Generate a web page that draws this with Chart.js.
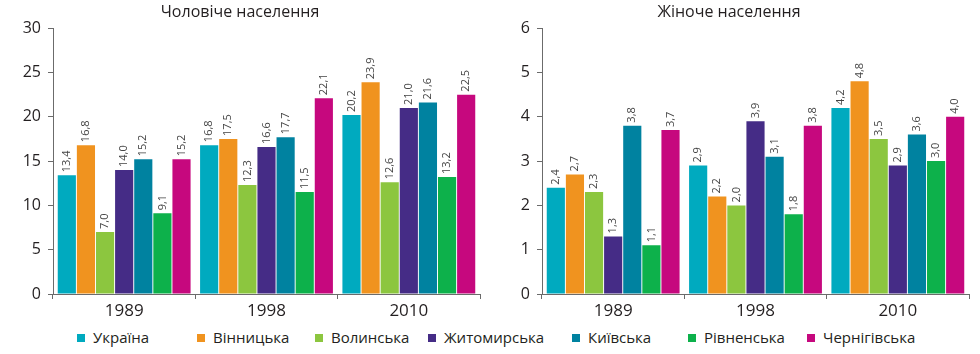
<!DOCTYPE html>
<html>
<head>
<meta charset="utf-8">
<script src="https://cdn.jsdelivr.net/npm/chart.js@4/dist/chart.umd.min.js"></script>
<style>
  body { margin: 0; background: #fff; }
  #wrap { position: relative; width: 980px; height: 354px; overflow: hidden; }
  canvas { position: absolute; top: 0; }
  #legend { position: absolute; left: 0; top: 326px; width: 980px; height: 26px; font-family: "Open Sans", sans-serif; font-size: 15px; color: #231f20; }
  .item { position: absolute; top: 0; white-space: nowrap; line-height: 22px; }
  .box { display: inline-block; width: 8px; height: 8px; margin-right: 8px; vertical-align: 1px; }
</style>
</head>
<body>
<div id="wrap">
  <canvas id="male" width="490" height="326" style="left:0"></canvas>
  <canvas id="female" width="490" height="326" style="left:489px"></canvas>
  <div id="legend"></div>
</div>
<script>
var years = ["1989", "1998", "2010"];
var regions = ["Україна", "Вінницька", "Волинська", "Житомирська", "Київська", "Рівненська", "Чернігівська"];
var colors = ["#00aabf", "#f0931f", "#8cc63f", "#452c86", "#0082a0", "#0db14b", "#c6087e"];

// чоловіче населення
var maleUkraine = [13.4, 16.8, 20.2];
var maleVinnytsia = [16.8, 17.5, 23.9];
var maleVolyn = [7.0, 12.3, 12.6];
var maleZhytomyr = [14.0, 16.6, 21.0];
var maleKyiv = [15.2, 17.7, 21.6];
var maleRivne = [9.1, 11.5, 13.2];
var maleChernihiv = [15.2, 22.1, 22.5];

// жіноче населення
var femaleUkraine = [2.4, 2.9, 4.2];
var femaleVinnytsia = [2.7, 2.2, 4.8];
var femaleVolyn = [2.3, 2.0, 3.5];
var femaleZhytomyr = [1.3, 3.9, 2.9];
var femaleKyiv = [3.8, 3.1, 3.6];
var femaleRivne = [1.1, 1.8, 3.0];
var femaleChernihiv = [3.7, 3.8, 4.0];

var maleTicks = [0, 5, 10, 15, 20, 25, 30];
var femaleTicks = [0, 1, 2, 3, 4, 5, 6];

var maleSeries = [maleUkraine, maleVinnytsia, maleVolyn, maleZhytomyr, maleKyiv, maleRivne, maleChernihiv];
var femaleSeries = [femaleUkraine, femaleVinnytsia, femaleVolyn, femaleZhytomyr, femaleKyiv, femaleRivne, femaleChernihiv];

var axisColor = "#6b6b6b";
var textColor = "#231f20";
var legendLeft = [77, 197, 315, 428, 572, 688, 807];

var valueLabels = {
    id: "valueLabels",
    afterDatasetsDraw: function(chart){
        var ctx = chart.ctx;
        ctx.save();
        ctx.font = "11px 'Open Sans', sans-serif";
        ctx.fillStyle = "#444";
        ctx.textAlign = "left";
        ctx.textBaseline = "middle";
        chart.data.datasets.forEach(function(ds, i){
            chart.getDatasetMeta(i).data.forEach(function(bar, j){
                var txt = ds.data[j].toFixed(1).replace(".", ",");
                ctx.save();
                ctx.translate(bar.x, bar.y - 3);
                ctx.rotate(-Math.PI / 2);
                ctx.fillText(txt, 0, 0);
                ctx.restore();
            });
        });
        ctx.restore();
    }
};

function makeChart(id, title, series, ticks){
    var datasets = [];
    series.forEach(function(values, i){
        datasets.push({
            label: regions[i],
            data: values,
            backgroundColor: colors[i],
            borderWidth: 0,
            categoryPercentage: 0.94,
            barPercentage: 0.95
        });
    });
    return new Chart(document.getElementById(id), {
        type: "bar",
        data: { labels: years, datasets: datasets },
        plugins: [valueLabels],
        options: {
            responsive: false,
            animation: false,
            devicePixelRatio: 1,
            layout: { padding: { left: 0, right: 10, top: 0, bottom: 0 } },
            plugins: {
                legend: { display: false },
                tooltip: { enabled: false },
                title: {
                    display: true,
                    text: title,
                    color: textColor,
                    font: { family: "'Open Sans', sans-serif", size: 16, weight: "normal" },
                    padding: { top: 3, bottom: 6 }
                }
            },
            scales: {
                x: {
                    grid: { display: true, drawOnChartArea: false, offset: true, tickLength: 5, color: axisColor },
                    border: { color: axisColor, width: 1 },
                    ticks: { color: textColor, padding: 2, font: { family: "'Open Sans', sans-serif", size: 17 } },
                    afterFit: function(scale){ scale.height = 32; }
                },
                y: {
                    min: ticks[0],
                    max: ticks[ticks.length - 1],
                    afterBuildTicks: function(scale){
                        scale.ticks = ticks.map(function(v){ return { value: v }; });
                    },
                    grid: { display: true, drawOnChartArea: false, tickLength: 5, color: axisColor },
                    border: { color: axisColor, width: 1 },
                    ticks: { color: textColor, padding: 7, font: { family: "'Open Sans', sans-serif", size: 16 } },
                    afterFit: function(scale){ scale.width = 53; }
                }
            }
        }
    });
}

makeChart("male", "Чоловіче населення", maleSeries, maleTicks);
makeChart("female", "Жіноче населення", femaleSeries, femaleTicks);

// легенда
var legend = document.getElementById("legend");
regions.forEach(function(name, i){
    var item = document.createElement("div");
    item.className = "item";
    item.style.left = legendLeft[i] + "px";
    var box = document.createElement("span");
    box.className = "box";
    box.style.background = colors[i];
    item.appendChild(box);
    item.appendChild(document.createTextNode(name));
    legend.appendChild(item);
});
</script>
</body>
</html>
